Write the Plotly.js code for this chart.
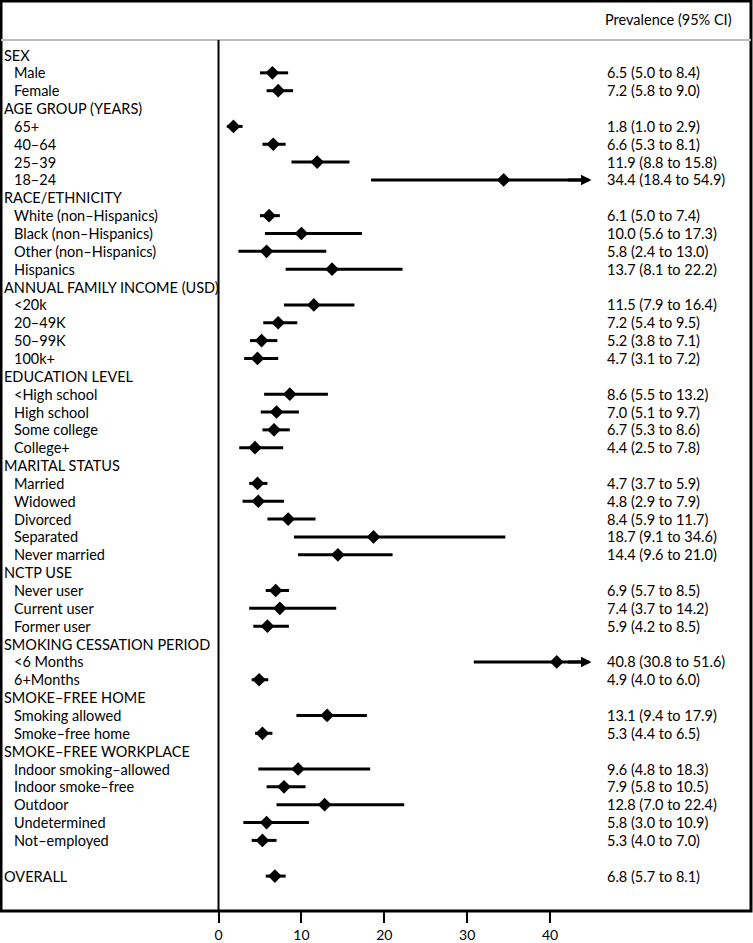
<!DOCTYPE html>
<html>
<head>
<meta charset="utf-8">
<script src="https://cdn.plot.ly/plotly-3.0.1.min.js"></script>
<style>html,body{margin:0;padding:0;background:#fff;}#chart{width:753px;height:943px;}</style>
</head>
<body>
<div id="chart"></div>
<script>
// Row labels (top to bottom); headers have null estimates
const labels = [
  "SEX","Male","Female",
  "AGE GROUP (YEARS)","65+","40–64","25–39","18–24",
  "RACE/ETHNICITY","White (non–Hispanics)","Black (non–Hispanics)","Other (non–Hispanics)","Hispanics",
  "ANNUAL FAMILY INCOME (USD)","<20k","20–49K","50–99K","100k+",
  "EDUCATION LEVEL","<High school","High school","Some college","College+",
  "MARITAL STATUS","Married","Widowed","Divorced","Separated","Never married",
  "NCTP USE","Never user","Current user","Former user",
  "SMOKING CESSATION PERIOD","<6 Months","6+Months",
  "SMOKE–FREE HOME","Smoking allowed","Smoke–free home",
  "SMOKE–FREE WORKPLACE","Indoor smoking–allowed","Indoor smoke–free","Outdoor","Undetermined","Not–employed",
  "","OVERALL"
];
const isHeader = [
  1,0,0,
  1,0,0,0,0,
  1,0,0,0,0,
  1,0,0,0,0,
  1,0,0,0,0,
  1,0,0,0,0,0,
  1,0,0,0,
  1,0,0,
  1,0,0,
  1,0,0,0,0,0,
  1,1
];
const prevalence = [
  null,6.5,7.2,
  null,1.8,6.6,11.9,34.4,
  null,6.1,10.0,5.8,13.7,
  null,11.5,7.2,5.2,4.7,
  null,8.6,7.0,6.7,4.4,
  null,4.7,4.8,8.4,18.7,14.4,
  null,6.9,7.4,5.9,
  null,40.8,4.9,
  null,13.1,5.3,
  null,9.6,7.9,12.8,5.8,5.3,
  null,6.8
];
const lower = [
  null,5.0,5.8,
  null,1.0,5.3,8.8,18.4,
  null,5.0,5.6,2.4,8.1,
  null,7.9,5.4,3.8,3.1,
  null,5.5,5.1,5.3,2.5,
  null,3.7,2.9,5.9,9.1,9.6,
  null,5.7,3.7,4.2,
  null,30.8,4.0,
  null,9.4,4.4,
  null,4.8,5.8,7.0,3.0,4.0,
  null,5.7
];
const upper = [
  null,8.4,9.0,
  null,2.9,8.1,15.8,54.9,
  null,7.4,17.3,13.0,22.2,
  null,16.4,9.5,7.1,7.2,
  null,13.2,9.7,8.6,7.8,
  null,5.9,7.9,11.7,34.6,21.0,
  null,8.5,14.2,8.5,
  null,51.6,6.0,
  null,17.9,6.5,
  null,18.3,10.5,22.4,10.9,7.0,
  null,8.1
];
const tickValues = [0,10,20,30,40];
const XMAX = 45; // CI truncated beyond this value, shown with an arrow

const FONT = "Lato, Open Sans, sans-serif";
const rows = labels.map((_, i) => i);

// CI segments
const lx = [], ly = [];
rows.forEach(i => {
  if (prevalence[i] == null) return;
  lx.push(lower[i], upper[i] > XMAX ? XMAX - 0.6 : upper[i], null);
  ly.push(i, i, null);
});
const ciTrace = {
  x: lx, y: ly, mode: "lines", type: "scatter",
  line: {color: "black", width: 3}, hoverinfo: "skip", showlegend: false
};
const ptTrace = {
  x: rows.filter(i => prevalence[i] != null).map(i => prevalence[i]),
  y: rows.filter(i => prevalence[i] != null),
  mode: "markers", type: "scatter",
  marker: {symbol: "diamond", size: 10.5, color: "black"},
  showlegend: false
};

const annotations = [];
// left labels
rows.forEach(i => {
  if (!labels[i]) return;
  annotations.push({
    xref: "paper", yref: "y",
    x: isHeader[i] ? 3/753 : 13/753, y: i,
    xanchor: "left", yanchor: "middle", borderpad: 0,
    text: labels[i], showarrow: false,
    font: {family: FONT, size: 14.5, color: "black"}
  });
});
// right estimates
rows.forEach(i => {
  if (prevalence[i] == null) return;
  annotations.push({
    xref: "x", yref: "y", x: 46.7, y: i,
    xanchor: "left", yanchor: "middle", borderpad: 0,
    text: prevalence[i].toFixed(1) + " (" + lower[i].toFixed(1) + " to " + upper[i].toFixed(1) + ")",
    showarrow: false,
    font: {family: FONT, size: 14.5, color: "black"}
  });
});
// arrows for truncated CIs
rows.forEach(i => {
  if (prevalence[i] == null || upper[i] <= XMAX) return;
  annotations.push({
    xref: "x", yref: "y", x: XMAX, y: i,
    axref: "x", ayref: "y", ax: XMAX - 3, ay: i,
    showarrow: true, arrowhead: 2, arrowsize: 0.7, arrowwidth: 3,
    arrowcolor: "black", standoff: 0, text: ""
  });
});
annotations.push({
  xref: "paper", yref: "paper", x: 604/753, y: 1 - 20/911,
  xanchor: "left", yanchor: "middle", borderpad: 0,
  text: "Prevalence (95% CI)", showarrow: false,
  font: {family: FONT, size: 14.5, color: "black"}
});

const grayY = 1 - 40/911;
const layout = {
  width: 753, height: 943,
  margin: {l: 0, r: 0, t: 0, b: 32, pad: 0},
  paper_bgcolor: "white", plot_bgcolor: "white",
  showlegend: false,
  xaxis: {
    range: [-26.36, 64.48], tickvals: tickValues, ticktext: tickValues.map(String),
    ticks: "outside", ticklen: 11, tickwidth: 2, tickcolor: "black",
    showgrid: false, zeroline: false, showline: false,
    tickfont: {family: FONT, size: 14, color: "black"}, fixedrange: true
  },
  yaxis: {
    range: [47.955, -3.081], showticklabels: false, showgrid: false,
    zeroline: false, showline: false, ticks: "", fixedrange: true
  },
  shapes: [
    {type: "rect", xref: "paper", yref: "paper", x0: 1/753, x1: 751/753, y0: 0, y1: 1 - 1/911,
     line: {color: "black", width: 3}},
    {type: "line", xref: "paper", yref: "paper", x0: 1/753, x1: 751/753, y0: grayY, y1: grayY,
     line: {color: "#bdbdbd", width: 2}},
    {type: "line", xref: "x", yref: "paper", x0: 0, x1: 0, y0: 0, y1: grayY,
     line: {color: "black", width: 2}}
  ],
  annotations: annotations
};
Plotly.newPlot("chart", [ciTrace, ptTrace], layout, {displayModeBar: false, staticPlot: true});
</script>
</body>
</html>
